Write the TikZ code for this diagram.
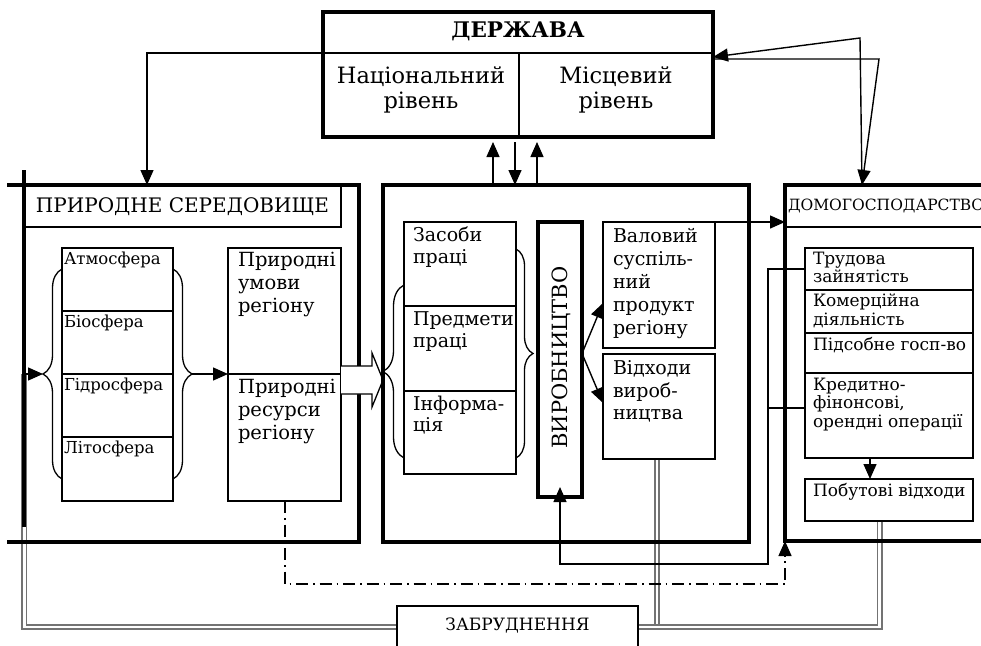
\documentclass[tikz,border=0pt]{standalone}
\usepackage{fontspec}
\setmainfont{DejaVu Serif}
\usetikzlibrary{arrows.meta,decorations.pathreplacing,calc,backgrounds}
\newcommand{\bx}[6]{\node[#2,minimum width={(#5-#3)*1pt},minimum height={(#6-#4)*1pt}] (#1) at (#3,#4) {};}
\begin{document}
\begin{tikzpicture}[x=1pt,y=-1pt,
  every node/.style={inner sep=0pt,outer sep=0pt},
  thin box/.style={draw,line width=1.4pt,anchor=north west},
  thick box/.style={draw,line width=3.6pt,anchor=north west},
  conn/.style={line width=1.4pt},
  arr/.style={conn,-{Triangle[length=15pt,width=13pt]}},
  brc/.style={line width=1.3pt,decorate,decoration={brace,amplitude=#1}},
  poll/.style={draw=black!55,line width=1.6pt,double=white,double distance=2.8pt},
  big/.style={font=\fontsize{19.5}{23}\selectfont,align=left},
  prodtxt/.style={font=\fontsize{19}{23}\selectfont,align=left},
  small/.style={font=\fontsize{16.5}{19}\selectfont,align=left},
  mid/.style={font=\fontsize{17}{18.5}\selectfont,align=left},
]
\useasboundingbox (0,0) rectangle (981,645);
% ---------- DERZHAVA
\bx{derz}{thick box}{323}{12}{713}{137}
\draw[conn] (323,53) -- (713,53);
\draw[conn] (519,53) -- (519,137);
\node[font=\bfseries\fontsize{21.5}{24}\selectfont,anchor=base] (tderz) at (518,37) {ДЕРЖАВА};
\node[font=\fontsize{22.5}{25}\selectfont,align=center,anchor=north] (tnat) at (421,67) {Національний\\рівень};
\node[font=\fontsize{22.5}{25}\selectfont,align=center,anchor=north] (tmis) at (616,67) {Місцевий\\рівень};
% ---------- NATURAL ENVIRONMENT
\node[anchor=north west,minimum width=335pt,minimum height=357pt] (nat) at (24,185) {};
\draw[line width=3.6pt] ($(nat.north west)+(-17,0)$) -- (nat.north east) -- (nat.south east) -- ($(nat.south west)+(-17,0)$);
\draw[line width=3.6pt] ($(nat.north west)+(0,-15)$) -- ($(nat.south west)+(0,-15)$);
\bx{prt}{thin box}{24}{185}{341}{227}
\node[font=\fontsize{20}{23}\selectfont] (tprt) at ($(prt.center)+(0,1)$) {ПРИРОДНЕ СЕРЕДОВИЩЕ};
\bx{s1}{thin box}{62}{248}{173}{311}
\bx{s2}{thin box}{62}{311}{173}{374}
\bx{s3}{thin box}{62}{374}{173}{437}
\bx{s4}{thin box}{62}{437}{173}{501}
\node[small,anchor=north west] (ts1) at (64,252) {Атмосфера};
\node[small,anchor=north west] (ts2) at (64,315) {Біосфера};
\node[small,anchor=north west] (ts3) at (64,378) {Гідросфера};
\node[small,anchor=north west] (ts4) at (64,441) {Літосфера};
\draw[brc=19pt] ($(s4.south west)+(0,-22)$) -- ($(s1.north west)+(0,21)$);
\draw[brc=19pt] ($(s1.north east)+(0,21)$) -- ($(s4.south east)+(0,-22)$);
\bx{pr1}{thin box}{228}{248}{341}{374}
\bx{pr2}{thin box}{228}{374}{341}{501}
\node[big,anchor=north west] (tpr1) at (238,252) {Природні\\умови\\регіону};
\node[big,anchor=north west] (tpr2) at (238,379) {Природні\\ресурси\\регіону};
\draw[arr] ($(s2.south east)+(19,0)$) -- (pr1.south west);
\draw[arr] (s2.south west -| nat.west) -- ($(s2.south west)+(-19,0)$);
\draw[line width=1.3pt,fill=white,shift={(pr2.north east)}] (0,-8) -- (31,-8) -- (31,-21) -- (42,6) -- (31,33) -- (31,20) -- (0,20);
% ---------- PRODUCTION
\bx{prod}{thick box}{383}{185}{749}{542}
\bx{zas1}{thin box}{404}{222}{516}{306}
\bx{zas2}{thin box}{404}{306}{516}{391}
\bx{zas3}{thin box}{404}{391}{516}{474}
\node[prodtxt,anchor=north west,font=\fontsize{19}{21.5}\selectfont] (tz1) at (413,227) {Засоби\\праці};
\node[prodtxt,anchor=north west,font=\fontsize{19}{21.5}\selectfont] (tz2) at (413,312) {Предмети\\праці};
\node[prodtxt,anchor=north west,font=\fontsize{19}{21.5}\selectfont] (tz3) at (413,396) {Інформа-\\ція};
\draw[brc=21pt] ($(zas3.south west)+(0,-16)$) -- ($(zas1.north west)+(0,63)$);
\draw[brc=17pt] ($(zas1.north east)+(0,27)$) -- ($(zas3.south east)+(0,-16)$);
\bx{vyr}{thick box}{538}{222}{582}{497}
\node[font=\fontsize{21}{24}\selectfont,rotate=90] (tvyr) at ($(vyr.center)+(1,-2)$) {ВИРОБНИЦТВО};
\bx{val}{thin box}{603}{222}{715}{348}
\bx{vid}{thin box}{603}{354}{715}{459}
\node[prodtxt,anchor=north west] (tval) at (613,228) {Валовий\\суспіль-\\ний\\продукт\\регіону};
\node[prodtxt,anchor=north west,font=\fontsize{19}{22.5}\selectfont] (tvid) at (613,361) {Відходи\\вироб-\\ництва};
\draw[arr] ($(vyr.east)+(0,-6)$) -- ($(val.south west)+(0,-45)$);
\draw[arr] ($(vyr.east)+(0,-6)$) -- ($(vid.north west)+(0,49)$);
% ---------- HOUSEHOLD
\bx{dom}{thick box}{785}{185}{1015}{541}
\bx{domt}{thin box}{785}{185}{1015}{227}
\node[font=\fontsize{15.5}{18}\selectfont,anchor=west] (tdom) at (788,206) {ДОМОГОСПОДАРСТВО};
\bx{h1}{thin box}{805}{248}{973}{290}
\bx{h2}{thin box}{805}{290}{973}{333}
\bx{h3}{thin box}{805}{333}{973}{373}
\bx{h4}{thin box}{805}{373}{973}{458}
\node[mid,anchor=north west] (th1) at (813,252) {Трудова\\зайнятість};
\node[mid,anchor=north west] (th2) at (813,294) {Комерційна\\діяльність};
\node[mid,anchor=north west] (th3) at (813,337) {Підсобне госп-во};
\node[mid,anchor=north west] (th4) at (813,378) {Кредитно-\\фінонсові,\\орендні операції};
\bx{pob}{thin box}{805}{479}{973}{521}
\node[mid,anchor=north west] (tpob) at (813,483) {Побутові відходи};
\coordinate (ax) at (870,0);
\draw[arr] (h4.south -| ax) -- (pob.north -| ax);
\draw[arr] (val.north east) -- (val.north east -| dom.west);
% ---------- POLLUTION
\bx{zab}{thin box}{397}{606}{638}{665}
\node[font=\fontsize{17}{20}\selectfont,anchor=base] (tzab) at (517.5,630) {ЗАБРУДНЕННЯ};
% ---------- CONNECTORS
\coordinate (c1) at (147,53);
\draw[arr] (derz.west |- c1) -- (c1) -- (c1 |- nat.north);
\coordinate (r1) at (860,38);
\coordinate (r2) at (879,59);
\coordinate (rx) at (862,0);
\draw[arr] (dom.north -| rx) -- (r1) -- ($(derz.north east)+(0,45)$);
\draw[arr] ($(derz.north east)+(0,47)$) -- (r2) -- (dom.north -| rx);
\coordinate (v1) at (493,0);
\coordinate (v2) at (515,0);
\coordinate (v3) at (537,0);
\draw[arr,shorten >=5pt] (prod.north -| v1) -- (derz.south -| v1);
\draw[arr,shorten <=5pt] (derz.south -| v2) -- (prod.north -| v2);
\draw[arr,shorten >=5pt] (prod.north -| v3) -- (derz.south -| v3);
\coordinate (j1) at (768,269);
\coordinate (j2) at (768,408);
\coordinate (j3) at (768,564);
\draw[arr] (h1.west) -- (h1.west -| j1) -- (j3) -- (j3 -| vyr.south) -- ($(vyr.south)+(0,-10)$);
\draw[conn] (j2 -| h4.west) -- (j2);
\coordinate (dd1) at (285,584);
\draw[conn,dash pattern=on 12pt off 5pt on 1.5pt off 5pt,-{Triangle[length=15pt,width=13pt]}] (pr2.south -| dd1) -- (dd1) -- (dd1 -| dom.south west) -- (dom.south west);
\begin{scope}[on background layer]
\coordinate (p1) at (24.2,627);
\coordinate (p2) at (657,627);
\coordinate (p3) at (879.5,627);
\draw[poll] (p1 |- s2.south west) -- (p1) -- (p1 -| zab.west);
\draw[poll] (zab.east |- p3) -- (p3) -- (pob.south -| p3);
\draw[poll] (vid.south -| p2) -- ($(p2)+(0,-2.8)$);
\end{scope}
\end{tikzpicture}
\end{document}
